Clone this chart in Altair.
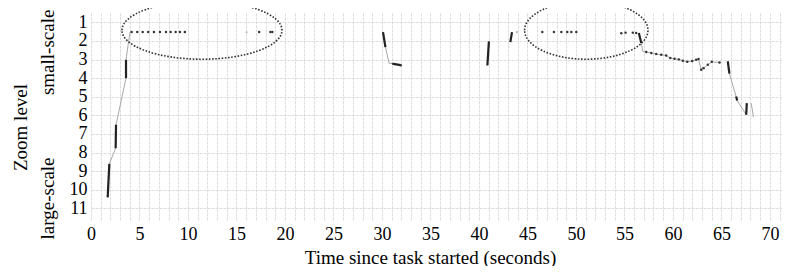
import altair as alt
import pandas as pd

# ---- gray continuous trace: session id, time (s), zoom level ----
trace_session = [1]*7 + [2]*5 + [3]*21 + [4]*6 + [5]*2
trace_t = [1.72, 1.89, 2.54, 2.58, 3.61, 3.61, 4.02,
           30.11, 30.36, 30.73, 31.15, 31.94,
           56.49, 56.74, 56.90, 57.25, 57.77, 58.28, 58.80, 59.31, 59.73, 60.17,
           60.61, 61.02, 61.48, 61.99, 62.40, 62.64, 62.92, 63.16, 63.60, 64.01, 64.81,
           65.66, 65.83, 66.52, 66.63, 67.56, 67.62,
           68.07, 68.31]
trace_level = [10.41, 8.61, 7.77, 6.51, 4.00, 3.01, 1.52,
               1.52, 2.33, 3.19, 3.23, 3.30,
               1.57, 2.11, 2.56, 2.59, 2.65, 2.70, 2.74, 2.78, 2.92, 2.96,
               2.99, 3.06, 3.12, 3.08, 3.01, 2.97, 3.55, 3.46, 3.28, 3.12, 3.16,
               3.10, 3.76, 4.99, 5.20, 5.97, 5.34,
               5.34, 6.10]

# ---- black zoom segments: segment id, time, zoom level ----
seg_id = [1, 1, 2, 2, 3, 3, 4, 4, 5, 5, 6, 6, 7, 7, 8, 8, 9, 9, 10, 10, 11, 11]
seg_t = [1.72, 1.89, 2.54, 2.58, 3.61, 3.61, 30.11, 30.36, 31.15, 31.94,
         41.03, 40.87, 43.24, 43.41, 56.49, 56.74, 65.66, 65.83, 66.52, 66.63, 67.56, 67.62]
seg_level = [10.41, 8.61, 7.77, 6.51, 4.00, 3.01, 1.52, 2.33, 3.23, 3.30,
             2.02, 3.32, 2.06, 1.52, 1.57, 2.11, 3.10, 3.76, 4.99, 5.20, 5.97, 5.34]

# ---- discrete events (dots) ----
dot_t = [4.19, 4.77, 5.33, 5.90, 6.49, 7.11, 7.73, 8.21, 8.73, 9.17, 9.68,
         17.34, 18.50, 18.70, 31.15, 31.94,
         46.54, 47.73, 48.50, 49.11, 49.53, 50.04, 54.68, 55.12, 55.87, 56.22,
         57.25, 57.77, 58.28, 58.80, 59.31, 59.73, 60.17, 60.61, 61.02, 61.48,
         61.99, 62.40, 62.64, 62.92, 63.16, 63.60, 64.01, 64.81]
dot_level = [1.52]*11 + [1.52, 1.52, 1.52, 3.23, 3.30] + \
            [1.52, 1.52, 1.52, 1.52, 1.52, 1.52, 1.58, 1.55, 1.55, 1.57] + \
            [2.59, 2.65, 2.70, 2.74, 2.78, 2.92, 2.96, 2.99, 3.06, 3.12,
             3.08, 3.01, 2.97, 3.55, 3.46, 3.28, 3.12, 3.16]
faint_t = [16.04, 43.92]
faint_level = [1.53, 1.52]

# ---- annotation ellipses (centres) ----
ell_t = [11.44, 51.07]
ell_level = [1.42, 1.42]

# ---- y-side annotations ----
ann_label = ["small-scale", "large-scale"]
ann_level = [2.61, 10.47]

x_ticks = list(range(0, 72))
y_ticks = list(range(1, 12))

df_trace = pd.DataFrame({"session": trace_session, "t": trace_t, "level": trace_level})
df_seg = pd.DataFrame({"seg": seg_id, "t": seg_t, "level": seg_level})
df_dot = pd.DataFrame({"t": dot_t, "level": dot_level})
df_faint = pd.DataFrame({"t": faint_t, "level": faint_level})
df_ell1 = pd.DataFrame({"t": ell_t[:1], "level": ell_level[:1]})
df_ell2 = pd.DataFrame({"t": ell_t[1:], "level": ell_level[1:]})
df_ann = pd.DataFrame({"label": ann_label, "level": ann_level})

FONT = "Liberation Serif"
x_scale = alt.Scale(domain=[0, 71.25], nice=False, zero=False)
y_scale = alt.Scale(domain=[0.44, 11.63], reverse=True, nice=False, zero=False)

x_axis = alt.Axis(values=x_ticks, labelExpr="datum.value % 5 === 0 ? datum.label : ''",
                  labelOverlap=False,
                  title="Time since task started (seconds)", titleX=339, titleY=37,
                  titleBaseline="middle", titleAlign="center", titleAngle=0)
y_axis = alt.Axis(values=y_ticks, labelOverlap=False,
                  title="Zoom level", titleX=-71, titleY=115, titleBaseline="middle",
                  titleAlign="center", titleAngle=270)

X = alt.X("t:Q", scale=x_scale, axis=x_axis)
Y = alt.Y("level:Q", scale=y_scale, axis=y_axis)

trace = alt.Chart(df_trace).mark_line(color="#a8a8a8", strokeWidth=1).encode(
    x=X, y=Y, detail="session:N", order="t:Q")
segs = alt.Chart(df_seg).mark_line(color="#222222", strokeWidth=2.2).encode(
    x=X, y=Y, detail="seg:N")
dots = alt.Chart(df_dot).mark_point(filled=True, color="#333333", size=6, opacity=1).encode(x=X, y=Y)
faint = alt.Chart(df_faint).mark_point(filled=True, color="#bbbbbb", size=5, opacity=1).encode(x=X, y=Y)

ell1 = alt.Chart(df_ell1).mark_point(
    shape="M-1,0A1,0.3625,0,1,1,1,0A1,0.3625,0,1,1,-1,0Z", size=25600, filled=False,
    color="#333333", strokeWidth=1.6, strokeDash=[1.6, 1.6], opacity=1).encode(x=X, y=Y)
ell2 = alt.Chart(df_ell2).mark_point(
    shape="M-1,0A1,0.47,0,1,1,1,0A1,0.47,0,1,1,-1,0Z", size=15228, filled=False,
    color="#333333", strokeWidth=1.6, strokeDash=[1.6, 1.6], opacity=1).encode(x=X, y=Y)

ann = alt.Chart(df_ann).mark_text(angle=270, font=FONT, fontSize=19, align="center",
                                  baseline="middle", color="black").encode(
    x=alt.value(-43), y=Y, text="label:N")

chart = alt.layer(trace, segs, dots, faint, ell1, ell2, ann).properties(
    width=691, height=208,
    padding={"left": 83, "top": 4, "right": 0, "bottom": 46},
    autosize=alt.AutoSizeParams(type="none"),
    background="white",
).configure_view(stroke=None).configure_axis(
    grid=True, gridColor="#dcdcdc", gridDash=[3, 1], gridWidth=1,
    ticks=False, domain=False, labelFont=FONT, labelFontSize=18,
    labelColor="black", labelFlush=False, labelOverlap=False,
    titleFont=FONT, titleFontSize=19, titleFontWeight="normal", titleColor="black",
).configure_axisX(labelPadding=5, titleFontSize=19).configure_axisY(labelPadding=4)

chart.save("out.html", embed_options={"renderer": "svg", "actions": False})
